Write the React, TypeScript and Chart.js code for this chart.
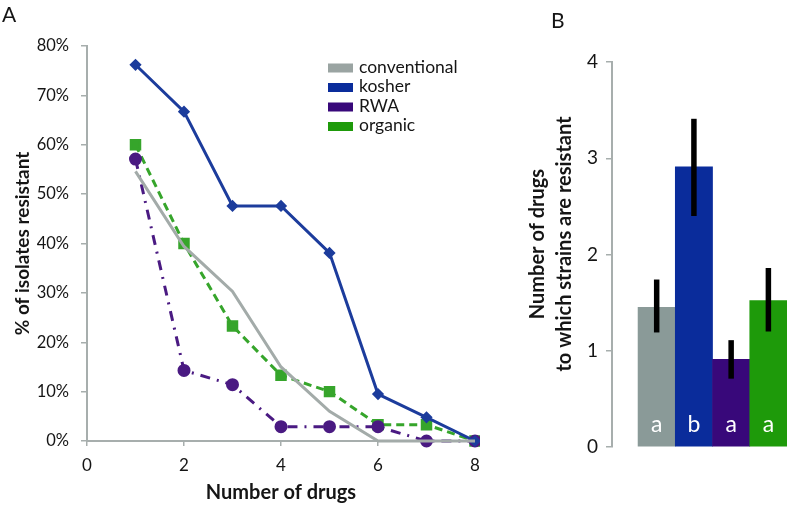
import React, { useEffect, useRef } from "react";
import { Chart, registerables } from "chart.js";

Chart.register(...registerables);

// ---- Panel A data ----
const drugCounts = [1, 2, 3, 4, 5, 6, 7, 8];
const conventional = [54.6, 39.4, 30.3, 15.0, 6.0, 0, 0, 0];
const kosher = [76.2, 66.7, 47.6, 47.6, 38.1, 9.5, 4.8, 0];
const rwa = [57.1, 14.3, 11.4, 2.9, 2.9, 2.9, 0, 0];
const organic = [60.0, 40.0, 23.3, 13.3, 10.0, 3.3, 3.3, 0];
const seriesNames = ["conventional", "kosher", "RWA", "organic"];
const xTicksA = [0, 2, 4, 6, 8];
const yTicksA = [0, 10, 20, 30, 40, 50, 60, 70, 80];

// ---- Panel B data ----
const groups = ["conventional", "kosher", "RWA", "organic"];
const meanDrugs = [1.45, 2.91, 0.91, 1.52];
const errLow = [1.19, 2.4, 0.71, 1.2];
const errHigh = [1.74, 3.41, 1.11, 1.86];
const sigLetters = ["a", "b", "a", "a"];
const yTicksB = [0, 1, 2, 3, 4];

const FONT = "Lato, 'Open Sans', sans-serif";
const AXIS_GRAY = "#A7AEAD";
const TEXT = "#151515";
const lineColors = ["#A3ABA9", "#1C3C9C", "#4A1A82", "#36A52B"];
const legendColors = ["#9AA4A2", "#0A2C9B", "#38087A", "#1E9A0A"];
const barColors = ["#8A9A98", "#0A2C9B", "#38087A", "#1E9A0A"];

export default function App() {
  const refA = useRef<HTMLCanvasElement | null>(null);
  const refB = useRef<HTMLCanvasElement | null>(null);

  useEffect(() => {
    const toXY = (arr: number[]) => drugCounts.map((x, i) => ({ x, y: arr[i] }));

    const legendPlugin = {
      id: "customLegendA",
      afterDraw(chart: any) {
        const ctx = chart.ctx;
        ctx.save();
        ctx.font = `17.5px ${FONT}`;
        ctx.textBaseline = "middle";
        ctx.textAlign = "left";
        seriesNames.forEach((name, i) => {
          const y = 68 + i * 19.5;
          ctx.fillStyle = legendColors[i];
          ctx.fillRect(328, y - 4.5, 25, 9);
          ctx.fillStyle = TEXT;
          ctx.fillText(name, 359, y - 1);
        });
        ctx.restore();
      },
    };

    const chartA = new Chart(refA.current!, {
      type: "line",
      data: {
        datasets: [
          {
            label: seriesNames[0],
            data: toXY(conventional),
            borderColor: lineColors[0],
            backgroundColor: lineColors[0],
            borderWidth: 3,
            pointRadius: 0,
            pointHoverRadius: 0,
            tension: 0,
            clip: false,
          },
          {
            label: seriesNames[1],
            data: toXY(kosher),
            borderColor: lineColors[1],
            backgroundColor: lineColors[1],
            borderWidth: 3,
            pointStyle: "rectRot",
            pointRadius: 4,
            tension: 0,
            clip: false,
          },
          {
            label: seriesNames[2],
            data: toXY(rwa),
            borderColor: lineColors[2],
            backgroundColor: lineColors[2],
            borderWidth: 3,
            borderDash: [10, 7, 2, 7],
            pointStyle: "circle",
            pointRadius: 5,
            tension: 0,
            clip: false,
          },
          {
            label: seriesNames[3],
            data: toXY(organic),
            borderColor: lineColors[3],
            backgroundColor: lineColors[3],
            borderWidth: 3,
            borderDash: [8, 5],
            pointStyle: "rect",
            pointRadius: 6,
            tension: 0,
            clip: false,
          },
        ],
      },
      options: {
        animation: false,
        responsive: false,
        layout: { autoPadding: false, padding: { top: 46, right: 5, bottom: 0, left: 0 } },
        plugins: { legend: { display: false }, tooltip: { enabled: false } },
        scales: {
          x: {
            type: "linear",
            min: 0,
            max: 8,
            afterBuildTicks: (s: any) => {
              s.ticks = xTicksA.map((v) => ({ value: v }));
            },
            afterFit: (s: any) => {
              s.height = 64;
              s.paddingLeft = 0;
              s.paddingRight = 0;
            },
            ticks: { color: TEXT, font: { family: FONT, size: 17 }, padding: 9 },
            grid: { display: true, drawOnChartArea: false, drawTicks: true, tickLength: 5, color: AXIS_GRAY, lineWidth: 1.5 },
            border: { display: true, color: AXIS_GRAY, width: 2 },
            title: {
              display: true,
              text: "Number of drugs",
              color: TEXT,
              font: { family: FONT, size: 20, weight: "bold" },
              padding: { top: 0, bottom: 0 },
            },
          },
          y: {
            type: "linear",
            min: 0,
            max: 80,
            afterBuildTicks: (s: any) => {
              s.ticks = yTicksA.map((v) => ({ value: v }));
            },
            afterFit: (s: any) => {
              s.width = 87;
              s.paddingTop = 0;
              s.paddingBottom = 0;
            },
            ticks: {
              color: TEXT,
              font: { family: FONT, size: 16.5 },
              padding: 12,
              callback: (v: any) => `${v}%`,
            },
            grid: { display: true, drawOnChartArea: false, drawTicks: true, tickLength: 6, color: AXIS_GRAY, lineWidth: 1.5 },
            border: { display: true, color: AXIS_GRAY, width: 2 },
            title: {
              display: true,
              text: "% of isolates resistant",
              color: TEXT,
              font: { family: FONT, size: 19, weight: "bold" },
              padding: { top: 11, bottom: 0 },
            },
          },
        },
      },
      plugins: [legendPlugin],
    } as any);

    const barExtrasPlugin = {
      id: "barExtrasB",
      afterDatasetsDraw(chart: any) {
        const ctx = chart.ctx;
        const xs = chart.scales.x;
        const ys = chart.scales.y;
        ctx.save();
        ctx.strokeStyle = "#000";
        ctx.lineWidth = 5.5;
        ctx.lineCap = "butt";
        groups.forEach((_, i) => {
          const x = xs.getPixelForValue(i + 1);
          ctx.beginPath();
          ctx.moveTo(x, ys.getPixelForValue(errLow[i]));
          ctx.lineTo(x, ys.getPixelForValue(errHigh[i]));
          ctx.stroke();
        });
        ctx.fillStyle = "#ffffff";
        ctx.font = `23px ${FONT}`;
        ctx.textAlign = "center";
        ctx.textBaseline = "alphabetic";
        sigLetters.forEach((l, i) => {
          const x = xs.getPixelForValue(i + 1);
          ctx.fillText(l, x, ys.getPixelForValue(0) - 15);
        });
        // two-line y title
        ctx.fillStyle = TEXT;
        ctx.font = `bold 20px ${FONT}`;
        ctx.textBaseline = "middle";
        ctx.translate(0, 244);
        ctx.rotate(-Math.PI / 2);
        ctx.fillText("Number of drugs", 0, 58);
        ctx.fillText("to which strains are resistant", 0, 85);
        ctx.restore();
      },
    };

    const chartB = new Chart(refB.current!, {
      type: "bar",
      data: {
        datasets: [
          {
            label: "mean",
            data: meanDrugs.map((v, i) => ({ x: i + 1, y: v })),
            backgroundColor: barColors,
            borderWidth: 0,
            barPercentage: 1,
            categoryPercentage: 1,
          },
        ],
      },
      options: {
        animation: false,
        responsive: false,
        layout: { autoPadding: false, padding: { top: 62, right: 3, bottom: 58, left: 0 } },
        plugins: { legend: { display: false }, tooltip: { enabled: false } },
        scales: {
          x: {
            type: "linear",
            min: -0.2,
            max: 4.5,
            offset: false,
            display: false,
            afterBuildTicks: (s: any) => {
              s.ticks = groups.map((_, i) => ({ value: i + 1 }));
            },
          },
          y: {
            type: "linear",
            min: 0,
            max: 4,
            afterBuildTicks: (s: any) => {
              s.ticks = yTicksB.map((v) => ({ value: v }));
            },
            afterFit: (s: any) => {
              s.width = 132;
              s.paddingTop = 0;
              s.paddingBottom = 0;
            },
            ticks: { color: TEXT, font: { family: FONT, size: 19 }, padding: 8 },
            grid: { display: true, drawOnChartArea: false, drawTicks: true, tickLength: 6, color: AXIS_GRAY, lineWidth: 1.5 },
            border: { display: true, color: AXIS_GRAY, width: 2 },
          },
        },
      },
      plugins: [barExtrasPlugin],
    } as any);

    return () => {
      chartA.destroy();
      chartB.destroy();
    };
  }, []);

  return (
    <div style={{ position: "fixed", left: 0, top: 0, width: 790, height: 505, background: "#fff", fontFamily: FONT }}>
      <canvas ref={refA} width={480} height={505} style={{ position: "absolute", left: 0, top: 0 }} />
      <canvas ref={refB} width={310} height={505} style={{ position: "absolute", left: 480, top: 0 }} />
      <div style={{ position: "absolute", left: 2, top: 0, fontSize: 21, lineHeight: "27px", color: TEXT }}>A</div>
      <div style={{ position: "absolute", left: 551, top: 6, fontSize: 21, lineHeight: "27px", color: TEXT }}>B</div>
    </div>
  );
}
